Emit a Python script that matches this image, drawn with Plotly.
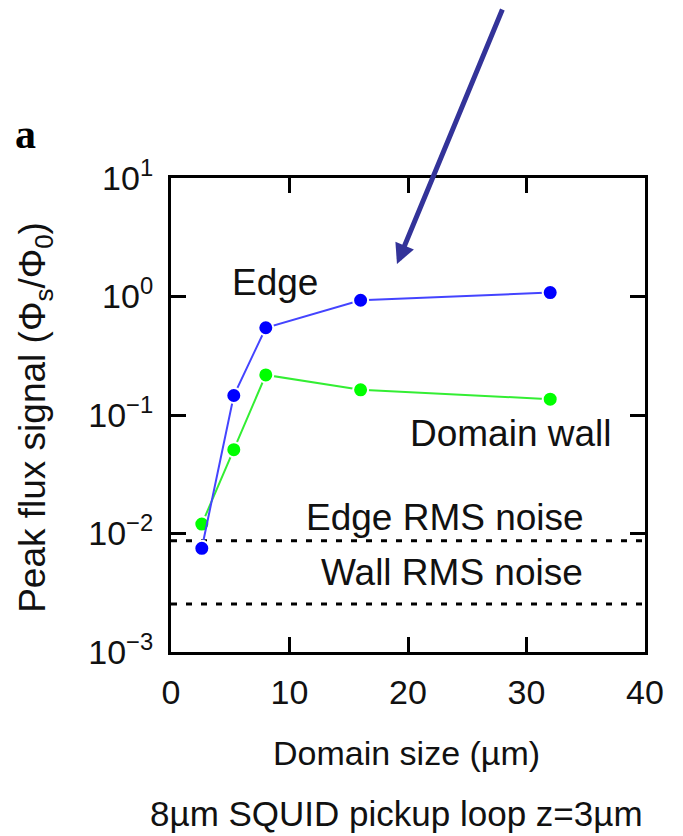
import plotly.graph_objects as go

# Peak flux signal vs. domain size, 8 µm SQUID pickup loop at z = 3 µm
domain_size = [2.6, 5.3, 8.0, 16.0, 32.0]
edge_signal = [0.0075, 0.146, 0.545, 0.93, 1.08]
wall_signal = [0.012, 0.051, 0.218, 0.163, 0.136]
edge_rms_noise = 0.0087
wall_rms_noise = 0.00254

x_tick_vals = [0, 10, 20, 30, 40]
y_tick_vals = [1e-3, 1e-2, 1e-1, 1e0, 1e1]
y_tick_text = ["10<sup>−3</sup>", "10<sup>−2</sup>", "10<sup>−1</sup>",
               "10<sup>0</sup>", "10<sup>1</sup>"]

FONT = "Liberation Sans, Arial, sans-serif"
TXT = "#111111"

fig = go.Figure()

# RMS noise floors (dashed, across full x range)
for level in (edge_rms_noise, wall_rms_noise):
    fig.add_trace(go.Scatter(
        x=[x_tick_vals[0], x_tick_vals[-1]], y=[level, level], mode="lines",
        line=dict(color="black", width=3, dash="6px,9px"),
        hoverinfo="skip", showlegend=False))

fig.add_trace(go.Scatter(
    x=domain_size, y=wall_signal, mode="lines+markers", name="Domain wall",
    line=dict(color="#33ee33", width=2),
    marker=dict(color="#00ff00", size=15, line=dict(color="white", width=2)),
    showlegend=False))

fig.add_trace(go.Scatter(
    x=domain_size, y=edge_signal, mode="lines+markers", name="Edge",
    line=dict(color="#4444ff", width=2),
    marker=dict(color="#0000ff", size=15, line=dict(color="white", width=2)),
    showlegend=False))

LBL = dict(size=37, color=TXT, family=FONT)
annotations = [
    dict(x=8.78, y=0.114, xref="x", yref="y", text="Edge", showarrow=False, font=LBL),
    dict(x=28.65, y=-1.16, xref="x", yref="y", text="Domain wall", showarrow=False, font=LBL),
    dict(x=23.1, y=-1.861, xref="x", yref="y", text="Edge RMS noise", showarrow=False, font=LBL),
    dict(x=23.7, y=-2.325, xref="x", yref="y", text="Wall RMS noise", showarrow=False, font=LBL),
    # pointer arrow
    dict(x=19.07, y=0.274, xref="x", yref="y", ax=106, ay=-256, text="",
         showarrow=True, arrowhead=2, arrowsize=0.8, arrowwidth=5,
         arrowcolor="#333399"),
    # axis titles and caption
    dict(x=0.497, y=-0.213, xref="paper", yref="paper", text="Domain size (µm)",
         showarrow=False, yanchor="middle", font=dict(size=34, color=TXT, family=FONT)),
    dict(x=0.475, y=-0.340, xref="paper", yref="paper",
         text="8µm SQUID pickup loop z=3µm", showarrow=False, yanchor="middle",
         font=dict(size=35, color=TXT, family=FONT)),
    dict(x=-0.287, y=0.496, xref="paper", yref="paper",
         text="Peak flux signal (Φ<sub>s</sub>/Φ<sub>0</sub>)", textangle=-90,
         showarrow=False, xanchor="center", yanchor="middle",
         font=dict(size=37, color=TXT, family=FONT)),
    # panel letter
    dict(x=-0.334, y=1.145, xref="paper", yref="paper", text="<b>a</b>",
         showarrow=False, font=dict(size=42, color="black",
                                    family="Liberation Serif, Times New Roman, serif")),
]

fig.update_layout(
    width=683, height=836,
    margin=dict(l=171, r=38, t=178, b=184),
    paper_bgcolor="white", plot_bgcolor="white",
    font=dict(family=FONT, color=TXT, size=34),
    annotations=annotations,
    xaxis=dict(range=[0, 40], tickvals=x_tick_vals, ticks="inside", ticklen=15,
               tickwidth=3, tickcolor="black", showline=True, linewidth=3,
               linecolor="black", mirror="ticks", showgrid=False, zeroline=False,
               ticklabelstandoff=8,
               tickfont=dict(size=34, family=FONT, color=TXT)),
    yaxis=dict(type="log", range=[-3, 1], tickvals=y_tick_vals, ticktext=y_tick_text,
               ticks="inside", ticklen=15, tickwidth=3, tickcolor="black",
               showline=True, linewidth=3, linecolor="black", mirror="ticks",
               showgrid=False, zeroline=False, ticklabelstandoff=8,
               tickfont=dict(size=34, family=FONT, color=TXT)),
)

fig.write_html("out.html")
